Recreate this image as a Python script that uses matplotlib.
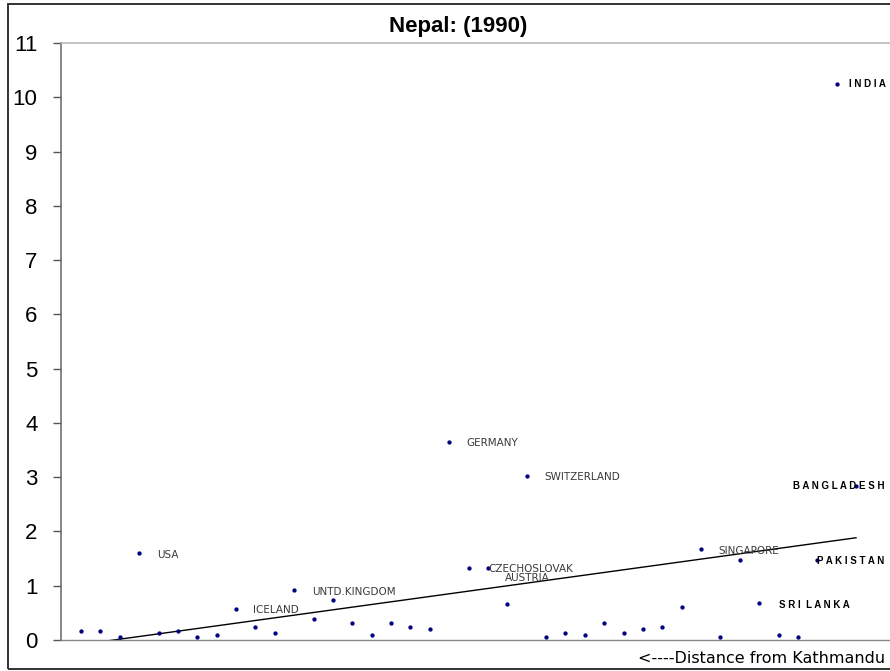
import matplotlib
matplotlib.use("Agg")
import matplotlib.pyplot as plt
import numpy as np
from matplotlib.patches import Rectangle

# GDP-share style values for countries ordered by distance from Kathmandu
values = [0.17, 0.17, 0.06, 1.60, 0.12, 0.17, 0.06, 0.09, 0.58, 0.24,
          0.12, 0.92, 0.39, 0.73, 0.31, 0.09, 0.31, 0.24, 0.20, 3.65,
          1.33, 1.33, 0.66, 3.02, 0.06, 0.12, 0.09, 0.31, 0.12, 0.20,
          0.24, 0.61, 1.67, 0.06, 1.48, 0.69, 0.09, 0.06, 1.48, 10.24,
          2.83]

# labelled countries (index into values)
plain_idx = [3, 8, 11, 19, 23, 21, 20, 32]
plain_names = ["USA", "ICELAND", "UNTD.KINGDOM", "GERMANY", "SWITZERLAND",
               "CZECHOSLOVAK", "AUSTRIA", "SINGAPORE"]
bold_idx = [35, 38, 39, 40]
bold_names = ["S R I  L A N K A", "P A K I S T A N", "I N D I A",
              "B A N G L A D E S H"]

y_ticks = list(range(0, 12))
title = "Nepal: (1990)"
x_title = "<----Distance from Kathmandu"

# label offsets in pixels from the marker
plain_off = [(18, -2), (17, -1), (18, -2), (17, -1), (18, -1), (0, -1),
             (36, -10), (17, -2)]
bold_off = [(20, -2), (0, -1), (12, 0), (-63, 0)]

W, H = 890, 671
fig = plt.figure(figsize=(W / 100, H / 100), dpi=100)
fig.patch.set_facecolor("white")

# outer frame
fig.patches.append(Rectangle((8 / W, 2 / H), (W + 20) / W, 665 / H,
                             transform=fig.transFigure, fill=False,
                             ec="#333333", lw=1.4))

ax = fig.add_axes([61 / W, 31 / H, 844 / W, 597 / H])
step = 19.375
x = np.arange(len(values))
ax.set_xlim(-20 / step, -20 / step + 844 / step)
ax.set_ylim(0, 11)

ax.plot(x, values, linestyle="none", marker="o", markersize=2.1,
        color="#000080", zorder=3)

# least-squares trend line
k, b = np.polyfit(x, values, 1)
ax.plot(x, k * x + b, color="black", lw=1.0, zorder=2)

for i, name, (dx, dy) in zip(plain_idx, plain_names, plain_off):
    ax.annotate(name, xy=(i, values[i]), xytext=(dx, dy),
                textcoords="offset pixels", ha="left", va="center",
                fontsize=7.5, color="#3a3a3a", family="DejaVu Sans",
                zorder=4)
for i, name, (dx, dy) in zip(bold_idx, bold_names, bold_off):
    ax.annotate(name, xy=(i, values[i]), xytext=(dx, dy),
                textcoords="offset pixels", ha="left", va="center",
                fontsize=7, fontweight="bold", color="black",
                family="Liberation Sans", zorder=4)

ax.set_yticks(y_ticks)
ax.set_yticklabels([str(t) for t in y_ticks], family="Liberation Sans",
                   fontsize=16)
ax.tick_params(axis="y", direction="out", length=6, width=1,
               color="#555555", pad=11)
ax.set_xticks([])

ax.spines["left"].set_color("#666666")
ax.spines["left"].set_linewidth(1.1)
ax.spines["bottom"].set_color("#888888")
ax.spines["bottom"].set_linewidth(1.0)
ax.spines["top"].set_color("#b4b4b4")
ax.spines["top"].set_linewidth(1.1)
ax.spines["right"].set_visible(False)

fig.text(458 / W, (H - 32) / H, title, ha="center", va="baseline",
         fontsize=16, fontweight="bold", family="Liberation Sans")
fig.text(638 / W, (H - 663) / H, x_title, ha="left", va="baseline",
         fontsize=11.5, family="DejaVu Sans", color="black")

fig.savefig("out.png", dpi=100)
